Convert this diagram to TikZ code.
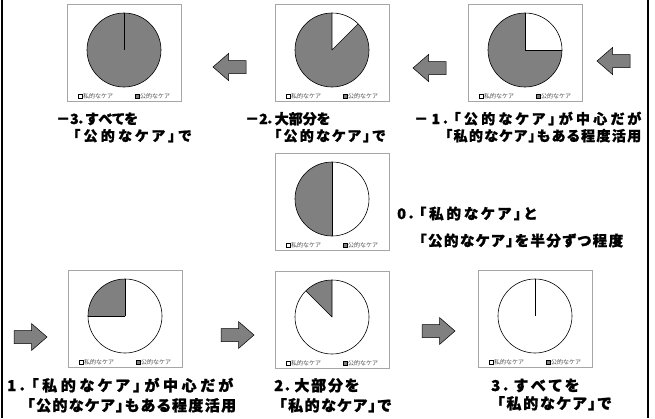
\documentclass[tikz,border=0pt]{standalone}
\usepackage{fontspec}
\newfontfamily\jp{Noto Sans CJK JP}
\newfontfamily\jpp{Noto Sans CJK JP}[RawFeature=+palt, BoldFeatures={FakeBold=1.2}]
\definecolor{pieg}{HTML}{808080}
\definecolor{boxg}{HTML}{A6A6A6}
\tikzset{
  chartbox/.style={draw=boxg, line width=1.2pt, fill=white, minimum width=114pt, minimum height=97pt, anchor=north west, inner sep=0pt},
  fatarrow/.style={draw=black, line width=0.5pt, fill=pieg, line join=miter},
  lbl/.style={font=\jpp\bfseries\fontsize{14}{14}\selectfont, anchor=base west, inner sep=0pt},
  lblm/.style={lbl, font=\jpp\bfseries\fontsize{14.5}{14.5}\selectfont},
  lblb/.style={lbl, font=\jpp\bfseries\fontsize{15}{15}\selectfont},
  leg/.style={font=\jp\fontsize{6}{6}\selectfont, text=black!70, inner sep=0pt, anchor=west},
  pieline/.style={line width=0.6pt, draw=black},
  border/.style={line width=2.5pt, draw=black}
}
\newcommand\G{\hskip 0pt plus 1fil\relax}
\newcommand\spreadto[2]{\hbox to #1pt{#2}}
\newcommand\mypie[5]{%
  \fill[#2] (#1) circle (37pt);
  \fill[#3] (#1) -- ++(#4:37pt) arc (#4:#5:37pt) -- cycle;
  \draw[pieline] (#1) circle (37pt);
  \draw[pieline] (#1) -- ++(#4:37pt) (#1) -- ++(#5:37pt);}
% #1 name, #2 left x, #3 top y (positive down), #4 base colour, #5 other colour, #6 start, #7 end
\newcommand\chart[7]{%
  \begin{scope}[shift={(#2,-#3)}]
    \node[chartbox] (#1) at (0,0) {};
    \coordinate (#1c) at (57,-46);
    \mypie{#1c}{#4}{#5}{#6}{#7}
    \draw[fill=white, line width=0.5pt] (11,-93.8) rectangle +(4,4);
    \node[leg] (#1p) at (16,-91.8) {私的なケア};
    \draw[fill=pieg, line width=0.5pt] (68,-93.8) rectangle +(4,4);
    \node[leg] (#1q) at (73,-91.8) {公的なケア};
  \end{scope}}
% #1 name, #2 tail x, #3 y (positive down), #4 rotation
\newcommand\fatarrowat[4]{%
  \begin{scope}[shift={(#2,-#3)}, rotate=#4]
    \coordinate (#1) at (0,0);
    \draw[fatarrow] (0,6.5) -- (17.5,6.5) -- (17.5,13.5) -- (33,0) -- (17.5,-13.5) -- (17.5,-6.5) -- (0,-6.5) -- cycle;
  \end{scope}}
\begin{document}
\begin{tikzpicture}[x=1pt,y=1pt]
\useasboundingbox (0,0) rectangle (655,-418);
\fill[white] (0,0) rectangle (655,-418);
\draw[border] (2,0) -- (2,-418);
\draw[border] (648,0) -- (648,-418);

% charts
\chart{cm3}{67}{4}{pieg}{pieg}{90}{90}
\chart{cm2}{275}{4}{pieg}{white}{45}{90}
\chart{cm1}{468}{4}{pieg}{white}{0}{90}
\chart{cz}{275}{153}{white}{pieg}{90}{270}
\chart{cp1}{68}{270}{white}{pieg}{90}{180}
\chart{cp2}{275}{271}{white}{pieg}{90}{135}
\chart{cp3}{478}{270}{white}{white}{90}{90}

% arrows
\fatarrowat{a1}{246}{67}{180}
\fatarrowat{a2}{446}{68}{180}
\fatarrowat{a3}{630}{61}{180}
\fatarrowat{a4}{14}{337}{0}
\fatarrowat{a5}{221}{335}{0}
\fatarrowat{a6}{422}{331}{0}

% labels
\node[lbl] (lm3a) at (56,-124) {\spreadto{78}{－\G 3\G ．\G す\G べ\G て\G を}};
\node[lbl] (lm3b) at (73,-141) {\spreadto{118}{「\G 公\G 的\G な\G ケ\G ア\G 」\G で}};
\node[lbl] (lm2a) at (245,-124) {\spreadto{74}{－\G 2\G ．\G 大\G 部\G 分\G を}};
\node[lbl] (lm2b) at (274,-141) {\spreadto{111}{「\G 公\G 的\G な\G ケ\G ア\G 」\G で}};
\node[lbl] (lm1a) at (414,-124) {\spreadto{227}{－\G 1\G ．\G 「\G 公\G 的\G な\G ケ\G ア\G 」\G が\G 中\G 心\G だ\G が}};
\node[lbl] (lm1b) at (445,-141) {\spreadto{196}{「\G 私\G 的\G な\G ケ\G ア\G 」\G も\G あ\G る\G 程\G 度\G 活\G 用}};
\node[lblm] (lza) at (397,-219) {\spreadto{139}{0\G ．\G 「\G 私\G 的\G な\G ケ\G ア\G 」\G と}};
\node[lblm] (lzb) at (419,-246) {\spreadto{204}{「\G 公\G 的\G な\G ケ\G ア\G 」\G を\G 半\G 分\G ず\G つ\G 程\G 度}};
\node[lblb] (lp1a) at (7,-391) {\spreadto{226}{1\G ．\G 「\G 私\G 的\G な\G ケ\G ア\G 」\G が\G 中\G 心\G だ\G が}};
\node[lblb] (lp1b) at (27,-411) {\spreadto{209}{「\G 公\G 的\G な\G ケ\G ア\G 」\G も\G あ\G る\G 程\G 度\G 活\G 用}};
\node[lblb] (lp2a) at (274,-391) {\spreadto{85}{2\G ．\G 大\G 部\G 分\G を}};
\node[lblb] (lp2b) at (279,-411) {\spreadto{112}{「\G 私\G 的\G な\G ケ\G ア\G 」\G で}};
\node[lblb] (lp3a) at (491,-391) {\spreadto{88}{3\G ．\G す\G べ\G て\G を}};
\node[lblb] (lp3b) at (497,-409) {\spreadto{114}{「\G 私\G 的\G な\G ケ\G ア\G 」\G で}};
\end{tikzpicture}
\end{document}
